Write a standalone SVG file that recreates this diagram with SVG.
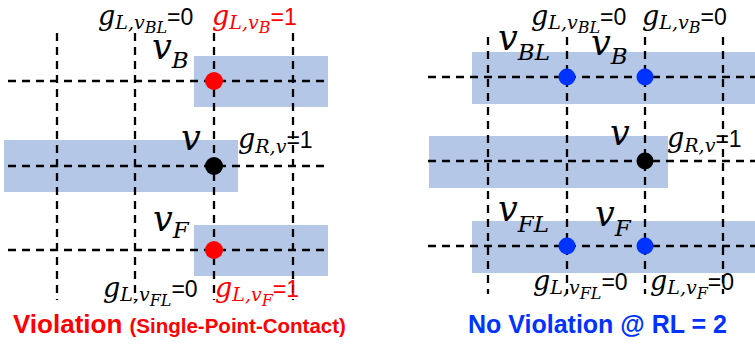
<svg xmlns="http://www.w3.org/2000/svg" width="755" height="345" viewBox="0 0 755 345">
<style>
.wire{fill:#B4C7E7}
.grid line{stroke:#000;stroke-width:2.3;stroke-dasharray:8 6}
.m{font-family:"DejaVu Serif",serif;font-style:italic}
.s{font-family:"Liberation Sans",sans-serif;font-style:normal}
.t{font-family:"Liberation Sans",sans-serif;font-weight:bold}
.g{font-size:27px}
.s1{font-size:19px}
.s2{font-size:16px}
.eq{font-size:23px}
.big{font-size:35px}
.bs{font-size:23px}
.red{fill:#FF0000}
.blk{fill:#000}
.blu{fill:#0033FF}
</style>
<rect width="755" height="345" fill="#fff"/>
<g id="wires">
<rect class="wire" x="194" y="56" width="134" height="51"/>
<rect class="wire" x="4" y="140" width="234" height="52"/>
<rect class="wire" x="194" y="225" width="134" height="51"/>
<rect class="wire" x="472" y="52" width="283" height="52"/>
<rect class="wire" x="429" y="136" width="239" height="52"/>
<rect class="wire" x="472" y="221" width="283" height="52"/>
</g>
<g id="connectors" class="grid">
<line x1="8" y1="81" x2="328" y2="81"/>
<line x1="8" y1="166" x2="328" y2="166"/>
<line x1="8" y1="250" x2="328" y2="250"/>
<line x1="57" y1="33" x2="57" y2="300"/>
<line x1="135" y1="33" x2="135" y2="300"/>
<line x1="214" y1="33" x2="214" y2="300"/>
<line x1="293" y1="33" x2="293" y2="300"/>
<line x1="428" y1="77" x2="755" y2="77"/>
<line x1="428" y1="161" x2="755" y2="161"/>
<line x1="428" y1="246" x2="755" y2="246"/>
<line x1="488" y1="37" x2="488" y2="294"/>
<line x1="567" y1="37" x2="567" y2="294"/>
<line x1="645" y1="37" x2="645" y2="294"/>
<line x1="723" y1="37" x2="723" y2="294"/>
</g>
<g id="node-left-vB"><circle class="red" cx="214" cy="81" r="9"/></g>
<g id="node-left-v"><circle class="blk" cx="214" cy="166" r="9"/></g>
<g id="node-left-vF"><circle class="red" cx="214" cy="250" r="9"/></g>
<g id="node-right-vBL"><circle class="blu" cx="567" cy="77" r="8.5"/></g>
<g id="node-right-vB"><circle class="blu" cx="645" cy="77" r="8.5"/></g>
<g id="node-right-v"><circle class="blk" cx="645" cy="161" r="8.5"/></g>
<g id="node-right-vFL"><circle class="blu" cx="567" cy="246" r="8.5"/></g>
<g id="node-right-vF"><circle class="blu" cx="645" cy="246" r="8.5"/></g>
<g id="labels-left">
<text class="m blk" x="98" y="25"><tspan class="g">g</tspan><tspan class="s1" dy="4">L,v</tspan><tspan class="s2" dy="4">BL</tspan><tspan class="s eq" dy="-8">=0</tspan></text>
<text class="m red" x="212" y="25"><tspan class="g">g</tspan><tspan class="s1" dy="4">L,v</tspan><tspan class="s2" dy="4">B</tspan><tspan class="s eq" dy="-8">=1</tspan></text>
<text class="m blk" x="152" y="59"><tspan class="big">v</tspan><tspan class="bs" dy="9">B</tspan></text>
<text class="m blk big" x="181" y="150">v</text>
<text class="m blk" x="238" y="148"><tspan class="g">g</tspan><tspan class="s1" dy="5">R,v</tspan><tspan class="s eq" dy="-5">=1</tspan></text>
<text class="m blk" x="153" y="231"><tspan class="big">v</tspan><tspan class="bs" dy="7">F</tspan></text>
<text class="m blk" x="103" y="297"><tspan class="g">g</tspan><tspan class="s1" dy="4">L,v</tspan><tspan class="s2" dy="5">FL</tspan><tspan class="s eq" dy="-9">=0</tspan></text>
<text class="m red" x="215" y="297"><tspan class="g">g</tspan><tspan class="s1" dy="4">L,v</tspan><tspan class="s2" dy="5">F</tspan><tspan class="s eq" dy="-9">=1</tspan></text>
<text class="t red" x="13" y="333"><tspan font-size="26">Violation </tspan><tspan font-size="20.5">(Single-Point-Contact)</tspan></text>
</g>
<g id="labels-right">
<text class="m blk" x="531" y="25"><tspan class="g">g</tspan><tspan class="s1" dy="4">L,v</tspan><tspan class="s2" dy="4">BL</tspan><tspan class="s eq" dy="-8">=0</tspan></text>
<text class="m blk" x="642" y="25"><tspan class="g">g</tspan><tspan class="s1" dy="4">L,v</tspan><tspan class="s2" dy="4">B</tspan><tspan class="s eq" dy="-8">=0</tspan></text>
<text class="m blk" x="498" y="50"><tspan class="big">v</tspan><tspan class="bs" dy="10">BL</tspan></text>
<text class="m blk" x="591" y="55"><tspan class="big">v</tspan><tspan class="bs" dy="9">B</tspan></text>
<text class="m blk big" x="610" y="145">v</text>
<text class="m blk" x="667" y="147"><tspan class="g">g</tspan><tspan class="s1" dy="5">R,v</tspan><tspan class="s eq" dy="-5">=1</tspan></text>
<text class="m blk" x="498" y="221"><tspan class="big">v</tspan><tspan class="bs" dy="11">FL</tspan></text>
<text class="m blk" x="595" y="226"><tspan class="big">v</tspan><tspan class="bs" dy="10">F</tspan></text>
<text class="m blk" x="533" y="290"><tspan class="g">g</tspan><tspan class="s1" dy="4">L,v</tspan><tspan class="s2" dy="5">FL</tspan><tspan class="s eq" dy="-9">=0</tspan></text>
<text class="m blk" x="650" y="290"><tspan class="g">g</tspan><tspan class="s1" dy="4">L,v</tspan><tspan class="s2" dy="5">F</tspan><tspan class="s eq" dy="-9">=0</tspan></text>
<text class="t blu" x="468" y="333" font-size="25">No Violation @ RL = 2</text>
</g>
</svg>
